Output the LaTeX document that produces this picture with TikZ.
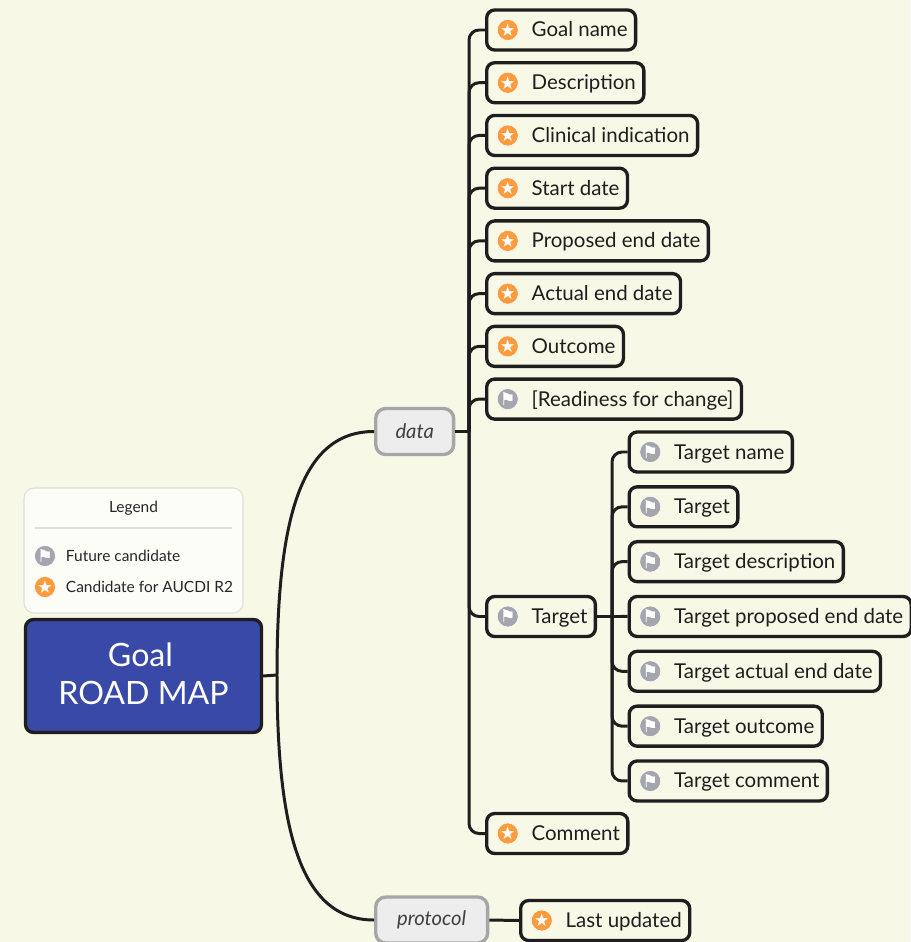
\documentclass[tikz,border=0pt]{standalone}
\usepackage{fontspec}
\setmainfont{Lato}
\newfontfamily\symbfont{DejaVu Sans}
\usetikzlibrary{positioning}
\definecolor{paper}{HTML}{F8F8E6}
\definecolor{rootblue}{HTML}{3949A8}
\definecolor{starorange}{HTML}{FF9A3D}
\definecolor{flaggrey}{HTML}{A5A5AD}
\definecolor{inkblack}{HTML}{1E1E1E}
\begin{document}
\begin{tikzpicture}[
  x=0.02cm, y=-0.02cm,
  item/.style={rectangle, draw=inkblack, line width=1.9pt, rounded corners=0.16cm, minimum height=0.8cm, inner xsep=0.16cm, inner ysep=0, anchor=west, text height=0.34cm, text depth=0.06cm, font=\fontsize{11.65}{14}\selectfont, text=inkblack, execute at begin node={\hskip 0.74cm}},
  section/.style={rectangle, draw=black!35, fill=black!7, line width=1.9pt, rounded corners=0.2cm, minimum height=0.92cm, anchor=west, font=\fontsize{11.5}{14}\selectfont\itshape, text=black!75},
  root/.style={rectangle, draw=inkblack, fill=rootblue, line width=1.9pt, rounded corners=0.16cm, minimum width=4.72cm, minimum height=2.26cm, align=center, text depth=0.08cm, text=white, font=\fontsize{18.3}{21.5}\selectfont},
  legendbox/.style={rectangle, draw=black!13, fill=white!70!paper, line width=0.6pt, rounded corners=0.2cm, minimum width=4.38cm, minimum height=2.5cm},
  legendtext/.style={font=\fontsize{8.8}{11}\selectfont, text=black!85},
  staricon/.style={circle, fill=starorange, draw=white, line width=0.3pt, minimum size=0.42cm, inner sep=0, text=white, font=\symbfont\fontsize{10}{10}\selectfont},
  flagicon/.style={circle, fill=flaggrey, draw=white, line width=0.3pt, minimum size=0.42cm, inner sep=0, text=white, font=\symbfont\fontsize{10}{10}\selectfont},
  conn/.style={draw=inkblack, line width=1.7pt},
  branch/.style={conn, rounded corners=0.2cm}
]

\fill[paper] (0,0) rectangle (910,942);
\useasboundingbox (0,0) rectangle (910,942);

% Nodes
\node[legendbox] (legend) at (133.5,550.5) {};
\node[legendtext] (legendtitle) at (133.5,508) {Legend};
\coordinate (ruleL) at (35,528);
\coordinate (ruleR) at (232,528);
\node[flagicon] (legendflag) at (45,556) {⚑};
\node[staricon] (legendstar) at (45,587) {★};
\node[legendtext, right=0.08cm of legendflag] {Future candidate};
\node[legendtext, right=0.08cm of legendstar] {Candidate for AUCDI R2};

\node[root] (goal) at (143.5,676) {Goal\hspace*{0.12cm}\\ROAD MAP};

\node[section, minimum width=1.56cm] (data) at (374,431.5) {data};
\node[section, minimum width=2.24cm] (protocol) at (374,920) {protocol};

% Data items
\node[item] (name) at (485,30) {Goal name};
\node[item, below=0.188cm of name.south west, anchor=north west] (descr) {Description};
\node[item, below=0.188cm of descr.south west, anchor=north west] (indic) {Clinical indication};
\node[item, below=0.188cm of indic.south west, anchor=north west] (start) {Start date};
\node[item, below=0.188cm of start.south west, anchor=north west] (propend) {Proposed end date};
\node[item, below=0.188cm of propend.south west, anchor=north west] (actend) {Actual end date};
\node[item, below=0.188cm of actend.south west, anchor=north west] (outcome) {Outcome};
\node[item, below=0.188cm of outcome.south west, anchor=north west] (ready) {[Readiness for change]};
\node[item] (target) at (485,616.5) {Target};
\node[item] (comment) at (485,833.5) {Comment};
\node[item] (updated) at (519,920.5) {Last updated};

% Target items
\node[item] (tname) at (627.5,452) {Target name};
\node[item, below=0.23cm of tname.south west, anchor=north west] (ttarget) {Target};
\node[item, below=0.23cm of ttarget.south west, anchor=north west] (tdescr) {Target description};
\node[item, below=0.23cm of tdescr.south west, anchor=north west] (tpropend) {Target proposed end date};
\node[item, below=0.23cm of tpropend.south west, anchor=north west] (tactend) {Target actual end date};
\node[item, below=0.23cm of tactend.south west, anchor=north west] (toutcome) {Target outcome};
\node[item, below=0.23cm of toutcome.south west, anchor=north west] (tcomment) {Target comment};

% Icons
\foreach \n in {name,descr,indic,start,propend,actend,outcome,comment,updated}
  \node[staricon, right=0.24cm of \n.west] {★};
\foreach \n in {ready,target,tname,ttarget,tdescr,tpropend,tactend,toutcome,tcomment}
  \node[flagicon, right=0.24cm of \n.west] {⚑};

% Connections
\coordinate (rootfork) at (277,675);
\coordinate (datahub) at (469,431.5);
\coordinate (targethub) at (612,616.5);

\draw[draw=black!13, line width=0.6pt] (ruleL) -- (ruleR);
\draw[conn] (goal.east) -- (rootfork);
\draw[conn] (rootfork) .. controls (277,520) and (300,431.5) .. (data.west);
\draw[conn] (rootfork) .. controls (277,830) and (300,920) .. (protocol.west);
\draw[conn] (data.east) -- (datahub);
\draw[conn] (protocol.east) -- (updated.west);
\draw[conn] (target.east) -- (tpropend.west);

\foreach \n in {name,descr,indic,start,propend,actend,outcome,ready,target,comment}
  \draw[branch] (datahub) |- (\n.west);
\foreach \n in {tname,ttarget,tdescr,tactend,toutcome,tcomment}
  \draw[branch] (targethub) |- (\n.west);

\end{tikzpicture}
\end{document}
